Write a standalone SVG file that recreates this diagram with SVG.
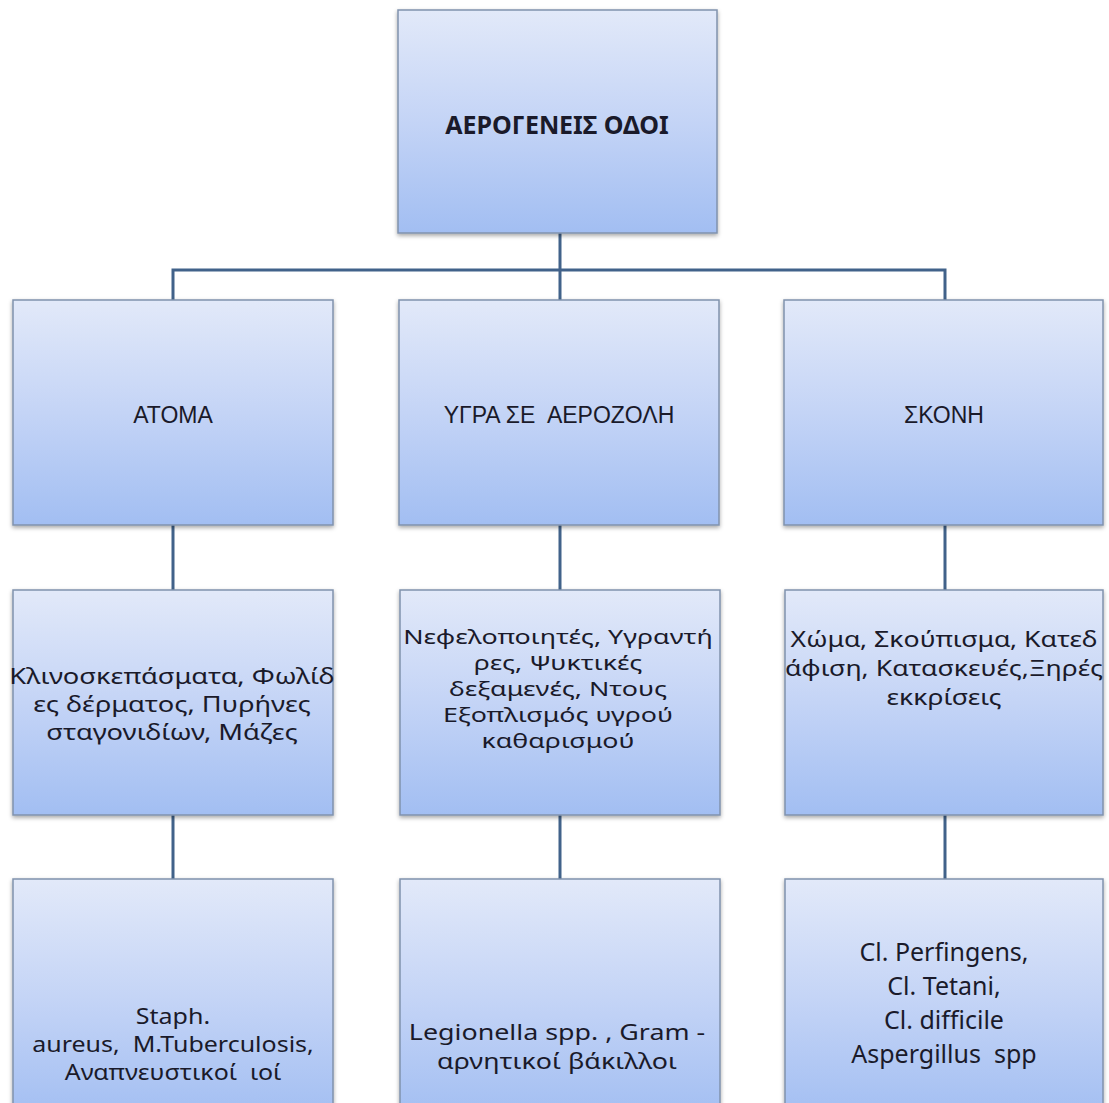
<svg xmlns="http://www.w3.org/2000/svg" width="1109" height="1103" viewBox="0 0 1109 1103">
<defs>
<linearGradient id="g" x1="0" y1="0" x2="0" y2="1">
<stop offset="0" stop-color="#e2e9f9"/>
<stop offset="0.5" stop-color="#c4d4f6"/>
<stop offset="1" stop-color="#a2bef2"/>
</linearGradient>
<filter id="sh" x="-5%" y="-5%" width="110%" height="112%">
<feDropShadow dx="0" dy="2" stdDeviation="2" flood-color="#000" flood-opacity="0.35"/>
</filter>
</defs>
<style>
.box{fill:url(#g);stroke:#8092ad;stroke-width:1.5;filter:url(#sh)}
.con{stroke:#41628a;stroke-width:3;fill:none}
text{font-family:"Noto Sans","Open Sans",sans-serif;fill:#1a1a2a;text-anchor:middle}
.f20{font-size:20px}
.f21{font-size:21px}
.f22{font-size:22px}
.s{font-size:25px}
.a{font-family:"Liberation Sans",Arial,sans-serif;font-size:23px}
.b{font-size:25px;font-weight:bold}
</style>
<rect width="1109" height="1103" fill="#fff"/>
<g id="connectors">
<path class="con" d="M560 233V270M173 300V270H945V300M560 270V300"/>
<path class="con" d="M173 525V590M560 525V590M945 525V590"/>
<path class="con" d="M173 815V879M560 815V879M945 815V879"/>
</g>
<g id="root"><rect class="box" x="398" y="10" width="319" height="223"/>
<text class="b" x="557" y="134">ΑΕΡΟΓΕΝΕΙΣ ΟΔΟΙ</text></g>
<g id="atoma"><rect class="box" x="13" y="300" width="320" height="225"/>
<text class="a" x="173" y="423">ΑΤΟΜΑ</text></g>
<g id="ygra"><rect class="box" x="399" y="300" width="320" height="225"/>
<text class="a" x="559" y="423" xml:space="preserve">ΥΓΡΑ ΣΕ  ΑΕΡΟΖΟΛΗ</text></g>
<g id="skoni"><rect class="box" x="784" y="300" width="319" height="225"/>
<text class="a" x="944" y="423">ΣΚΟΝΗ</text></g>
<g id="atoma-src"><rect class="box" x="13" y="590" width="320" height="225"/>
<g transform="translate(172 0) scale(1.3 1)">
<text class="f21" x="0" y="684">Κλινοσκεπάσματα, Φωλίδ</text>
<text class="f21" x="0" y="712">ες δέρματος, Πυρήνες</text>
<text class="f21" x="0" y="740">σταγονιδίων, Μάζες</text></g></g>
<g id="ygra-src"><rect class="box" x="400" y="590" width="320" height="225"/>
<g transform="translate(558 0) scale(1.34 1)">
<text class="f20" x="0" y="644">Νεφελοποιητές, Υγραντή</text>
<text class="f20" x="0" y="670">ρες, Ψυκτικές</text>
<text class="f20" x="0" y="696">δεξαμενές, Ντους</text>
<text class="f20" x="0" y="722">Εξοπλισμός υγρού</text>
<text class="f20" x="0" y="748">καθαρισμού</text></g></g>
<g id="skoni-src"><rect class="box" x="785" y="590" width="318" height="225"/>
<g transform="translate(944 0) scale(1.27 1)">
<text class="f21" x="0" y="647">Χώμα, Σκούπισμα, Κατεδ</text>
<text class="f21" x="0" y="676">άφιση, Κατασκευές,Ξηρές</text>
<text class="f21" x="0" y="705">εκκρίσεις</text></g></g>
<g id="atoma-org"><rect class="box" x="13" y="879" width="320" height="240"/>
<g transform="translate(173 0) scale(1.19 1)">
<text class="f21" x="0" y="1024">Staph.</text>
<text class="f21" x="0" y="1052" xml:space="preserve">aureus,  M.Tuberculosis,</text>
<text class="f21" x="0" y="1080" xml:space="preserve">Αναπνευστικοί  ιοί</text></g></g>
<g id="ygra-org"><rect class="box" x="400" y="879" width="320" height="240"/>
<g transform="translate(557 0) scale(1.22 1)">
<text class="f22" x="0" y="1040">Legionella spp. , Gram -</text>
<text class="f22" x="0" y="1069">αρνητικοί βάκιλλοι</text></g></g>
<g id="skoni-org"><rect class="box" x="785" y="879" width="318" height="240"/>
<text class="s" x="944" y="961">Cl. Perfingens,</text>
<text class="s" x="944" y="995">Cl. Tetani,</text>
<text class="s" x="944" y="1029">Cl. difficile</text>
<text class="s" x="944" y="1063" xml:space="preserve">Aspergillus  spp</text></g>
</svg>
